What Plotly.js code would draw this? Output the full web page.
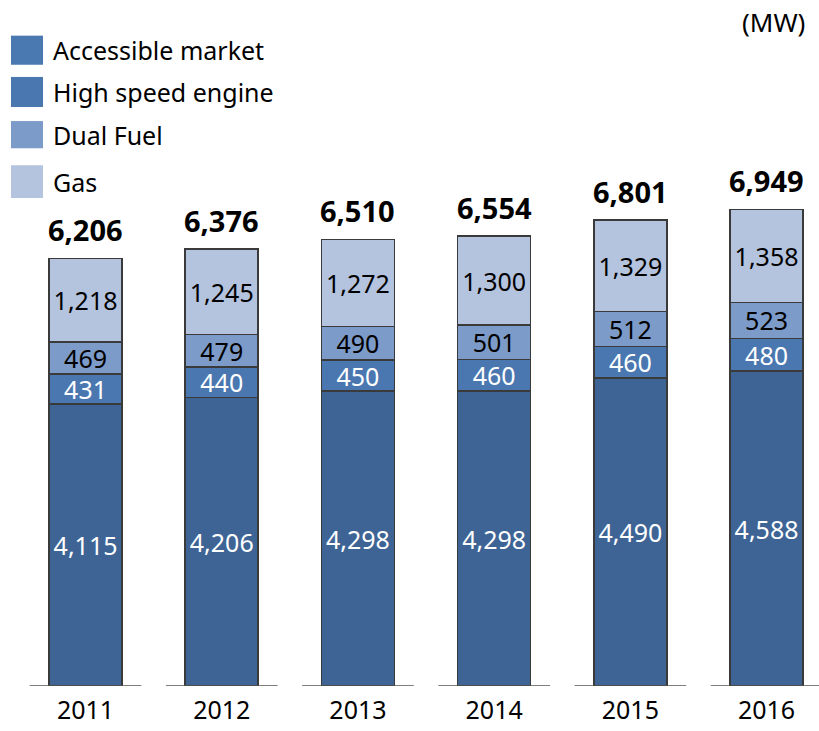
<!DOCTYPE html>
<html>
<head>
<meta charset="utf-8">
<script src="https://cdn.plot.ly/plotly-3.0.1.min.js"></script>
<style>html,body{margin:0;padding:0;background:#fff;}#chart{width:819px;height:731px;}</style>
</head>
<body>
<div id="chart"></div>
<script>
var years = ['2011', '2012', '2013', '2014', '2015', '2016'];
var accessibleMarket = [4115, 4206, 4298, 4298, 4490, 4588];
var highSpeedEngine = [431, 440, 450, 460, 460, 480];
var dualFuel = [469, 479, 490, 501, 512, 523];
var gas = [1218, 1245, 1272, 1300, 1329, 1358];
var totals = [6206, 6376, 6510, 6554, 6801, 6949];
var seriesNames = ['Accessible market', 'High speed engine', 'Dual Fuel', 'Gas'];
var barColors = ['#3E6496', '#4A77B0', '#7C9BC8', '#B4C3DE'];
var legendColors = ['#4A78B1', '#4A77B0', '#7C9BC8', '#B4C3DE'];
var textColors = ['#ffffff', '#ffffff', '#000000', '#000000'];
var unitLabel = '(MW)';

var FONT = 'Noto Sans, Open Sans, sans-serif';
var series = [accessibleMarket, highSpeedEngine, dualFuel, gas];
var fmt = function (v) { return v.toLocaleString('en-US'); };

var traces = series.map(function (vals, i) {
  return {
    type: 'bar',
    name: seriesNames[i],
    x: years,
    y: vals,
    width: 0.536,
    text: vals.map(fmt),
    textposition: 'inside',
    insidetextanchor: 'middle',
    constraintext: 'none',
    textfont: {family: FONT, size: 25, color: textColors[i]},
    marker: {color: barColors[i], line: {color: '#3a3a3a', width: 1.6}},
    hoverinfo: 'skip',
    showlegend: false
  };
});

var stackTop = years.map(function (_, j) {
  return series.reduce(function (s, arr) { return s + arr[j]; }, 0);
});

var annotations = years.map(function (yr, j) {
  return {
    x: j, y: stackTop[j], xref: 'x', yref: 'y',
    text: '<b>' + fmt(totals[j]) + '</b>',
    showarrow: false, yanchor: 'bottom', yshift: 7,
    font: {family: FONT, size: 29, color: '#000'}
  };
});

annotations.push({
  xref: 'paper', yref: 'paper', x: 1, y: 1,
  xanchor: 'right', yanchor: 'top', xshift: -12, yshift: -2,
  text: unitLabel, showarrow: false,
  font: {family: FONT, size: 26, color: '#000'}
});

var shapes = [];
// manual legend (large swatches)
var legTops = [38, 82, 129, 176];
var legH = [31, 32, 29, 35];
var H = 731, W = 819;
seriesNames.forEach(function (nm, i) {
  var y0 = legTops[i], y1 = legTops[i] + legH[i];
  shapes.push({
    type: 'rect', xref: 'paper', yref: 'paper',
    x0: 11 / W, x1: 43 / W, y0: 1 - y1 / H, y1: 1 - y0 / H,
    fillcolor: legendColors[i], line: {width: 0}, layer: 'above'
  });
  annotations.push({
    xref: 'paper', yref: 'paper', x: 51 / W, y: 1 - (y0 + y1) / 2 / H,
    xanchor: 'left', yanchor: 'middle', showarrow: false,
    text: nm, font: {family: FONT, size: 25, color: '#000'}
  });
});

// baseline segments under each bar
years.forEach(function (yr, j) {
  shapes.push({
    type: 'line', xref: 'x', yref: 'y',
    x0: j - 0.41, x1: j + 0.41, y0: 0, y1: 0,
    line: {color: '#555', width: 1.5}
  });
});

var layout = {
  width: 819, height: 731,
  margin: {l: 0, r: 0, t: 0, b: 45},
  paper_bgcolor: '#fff', plot_bgcolor: '#fff',
  barmode: 'stack',
  xaxis: {
    type: 'category', range: [-0.628, 5.385],
    showgrid: false, zeroline: false, showline: false,
    ticks: '', ticklabelstandoff: 7,
    tickfont: {family: FONT, size: 25, color: '#000'}
  },
  yaxis: {
    range: [0, 10000], visible: false, showgrid: false, zeroline: false
  },
  annotations: annotations,
  shapes: shapes,
  showlegend: false
};

Plotly.newPlot('chart', traces, layout, {displayModeBar: false, staticPlot: true});
</script>
</body>
</html>
